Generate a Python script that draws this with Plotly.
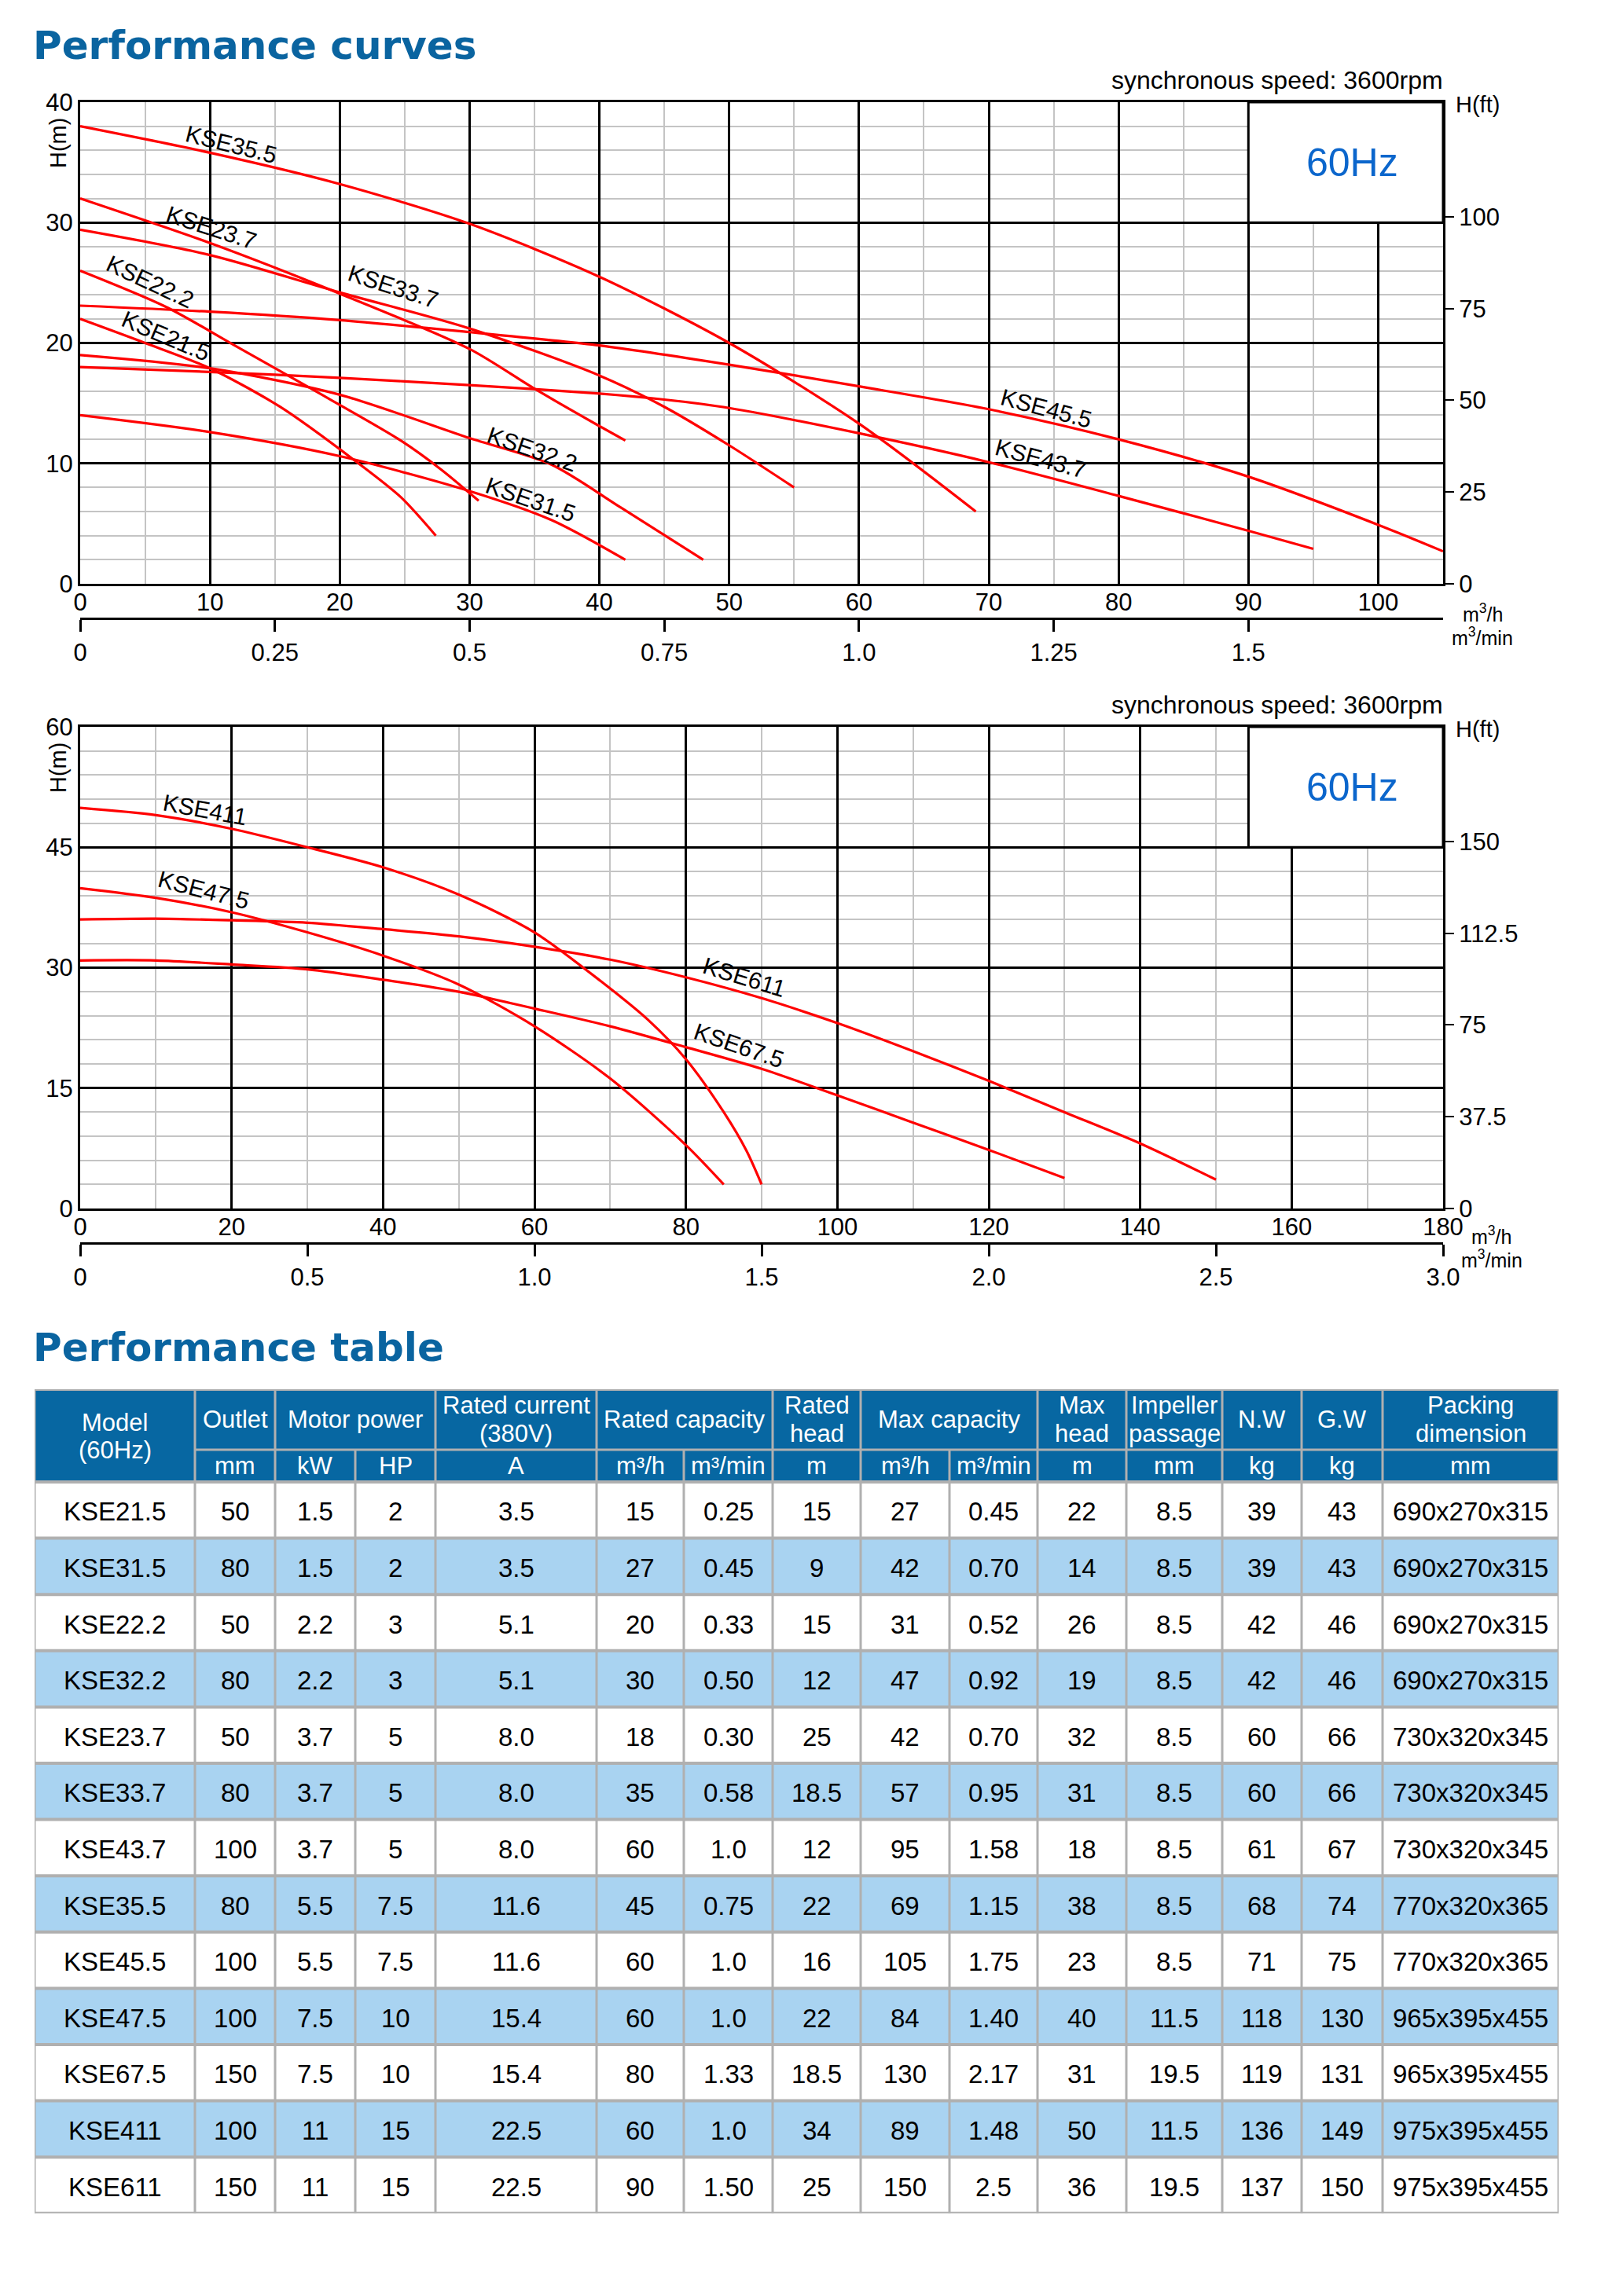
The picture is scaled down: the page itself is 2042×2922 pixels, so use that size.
import plotly.graph_objects as go

# ---------------------------------------------------------
# 1. Curve data (Q in m3/h, H in m)
# ---------------------------------------------------------
top_models = ["KSE35.5", "KSE23.7", "KSE33.7", "KSE22.2", "KSE21.5",
              "KSE45.5", "KSE43.7", "KSE32.2", "KSE31.5"]
top_q = [
    [0, 10, 20, 30, 40, 50, 60, 69],
    [0, 10, 20, 30, 35, 40, 42],
    [0, 10, 20, 30, 40, 45, 50, 55],
    [0, 6.6, 11.9, 17.8, 24.7, 27.8, 30.7],
    [0, 5, 10, 15.4, 21.2, 24.7, 27.4],
    [0, 10, 20, 30, 40, 50, 60, 70, 80, 90, 100, 105],
    [0, 10, 20, 30, 40, 45, 50, 60, 70, 80, 90, 95],
    [0, 10, 20, 30, 36.3, 41.7, 48],
    [0, 10, 20, 30, 36.3, 42],
]
top_h = [
    [38, 35.8, 33.2, 29.9, 25.5, 20.0, 13.3, 6.0],
    [32, 28.3, 24.1, 19.5, 16.2, 13.1, 11.9],
    [29.4, 27.3, 24.2, 21.2, 17.3, 14.7, 11.5, 8.0],
    [26, 23.0, 19.8, 16.2, 11.9, 9.5, 6.9],
    [22, 20.0, 17.9, 14.7, 10.2, 7.2, 4.0],
    [23.1, 22.6, 21.9, 20.9, 19.8, 18.2, 16.4, 14.5, 12.0, 8.9, 4.9, 2.7],
    [18, 17.6, 17.1, 16.5, 15.8, 15.3, 14.6, 12.5, 10.1, 7.3, 4.4, 2.9],
    [19, 17.9, 15.7, 12.1, 9.9, 6.3, 2.0],
    [14, 12.6, 10.6, 7.7, 5.3, 2.0],
]

bottom_models = ["KSE411", "KSE47.5", "KSE611", "KSE67.5"]
bottom_q = [
    [0, 10, 20, 30, 40, 50, 60, 70, 75, 80, 85, 88, 90],
    [0, 10, 20, 30, 40, 50, 60, 70, 80, 85],
    [0, 10, 20, 30, 40, 50, 60, 70, 80, 90, 100, 110, 120, 130, 140, 150],
    [0, 10, 20, 30, 40, 50, 60, 70, 80, 90, 100, 110, 120, 130],
]
bottom_h = [
    [49.9, 49.0, 47.3, 45.0, 42.5, 39.1, 34.4, 27.4, 23.5, 18.6, 12.0, 7.2, 3.0],
    [39.9, 38.7, 36.9, 34.4, 31.5, 27.9, 22.7, 16.2, 7.9, 3.0],
    [36.0, 36.1, 35.9, 35.6, 34.8, 33.9, 32.6, 31.0, 28.8, 26.2, 23.1, 19.6, 15.9, 12.0, 8.1, 3.6],
    [30.9, 30.9, 30.4, 29.8, 28.5, 27.0, 24.9, 22.7, 20.1, 17.4, 14.1, 10.7, 7.3, 3.8],
]

# ---------------------------------------------------------
# 2. Performance table data
# ---------------------------------------------------------
models = ["KSE21.5", "KSE31.5", "KSE22.2", "KSE32.2", "KSE23.7", "KSE33.7", "KSE43.7",
          "KSE35.5", "KSE45.5", "KSE47.5", "KSE67.5", "KSE411", "KSE611"]
outlet_mm = ["50", "80", "50", "80", "50", "80", "100", "80", "100", "100", "150", "100", "150"]
motor_kw = ["1.5", "1.5", "2.2", "2.2", "3.7", "3.7", "3.7", "5.5", "5.5", "7.5", "7.5", "11", "11"]
motor_hp = ["2", "2", "3", "3", "5", "5", "5", "7.5", "7.5", "10", "10", "15", "15"]
current_a = ["3.5", "3.5", "5.1", "5.1", "8.0", "8.0", "8.0", "11.6", "11.6", "15.4", "15.4", "22.5", "22.5"]
rated_q_h = ["15", "27", "20", "30", "18", "35", "60", "45", "60", "60", "80", "60", "90"]
rated_q_min = ["0.25", "0.45", "0.33", "0.50", "0.30", "0.58", "1.0", "0.75", "1.0", "1.0", "1.33", "1.0", "1.50"]
rated_head = ["15", "9", "15", "12", "25", "18.5", "12", "22", "16", "22", "18.5", "34", "25"]
max_q_h = ["27", "42", "31", "47", "42", "57", "95", "69", "105", "84", "130", "89", "150"]
max_q_min = ["0.45", "0.70", "0.52", "0.92", "0.70", "0.95", "1.58", "1.15", "1.75", "1.40", "2.17", "1.48", "2.5"]
max_head = ["22", "14", "26", "19", "32", "31", "18", "38", "23", "40", "31", "50", "36"]
impeller_mm = ["8.5", "8.5", "8.5", "8.5", "8.5", "8.5", "8.5", "8.5", "8.5", "11.5", "19.5", "11.5", "19.5"]
nw_kg = ["39", "39", "42", "42", "60", "60", "61", "68", "71", "118", "119", "136", "137"]
gw_kg = ["43", "43", "46", "46", "66", "66", "67", "74", "75", "130", "131", "149", "150"]
packing_mm = ["690x270x315", "690x270x315", "690x270x315", "690x270x315",
              "730x320x345", "730x320x345", "730x320x345",
              "770x320x365", "770x320x365", "965x395x455", "965x395x455",
              "975x395x455", "975x395x455"]

table_columns = [models, outlet_mm, motor_kw, motor_hp, current_a, rated_q_h, rated_q_min,
                 rated_head, max_q_h, max_q_min, max_head, impeller_mm, nw_kg, gw_kg, packing_mm]

# header: (first col, last col, lines) for the top header row
header_groups = [
    (1, 1, ["Outlet"]), (2, 3, ["Motor power"]), (4, 4, ["Rated current", "(380V)"]),
    (5, 6, ["Rated capacity"]), (7, 7, ["Rated", "head"]), (8, 9, ["Max capacity"]),
    (10, 10, ["Max", "head"]), (11, 11, ["Impeller", "passage"]), (12, 12, ["N.W"]),
    (13, 13, ["G.W"]), (14, 14, ["Packing", "dimension"]),
]
unit_labels = ["", "mm", "kW", "HP", "A", "m³/h", "m³/min", "m", "m³/h", "m³/min",
               "m", "mm", "kg", "kg", "mm"]

# ---------------------------------------------------------
# 3. Page geometry (figure placed inside the 8px body margin)
# ---------------------------------------------------------
FIG_W, FIG_H, PAD = 2026, 2906, 8


def px(x):
    return (x - PAD) / FIG_W


def py(y):
    return 1 - (y - PAD) / FIG_H


BLUE = "#0a64a0"
HEAD_BLUE = "#0767a2"
ROW_BLUE = "#a9d3f1"
GRID_GRAY = "#c4c4c4"
CELL_LINE = "#b0b0b0"
FONT = "Liberation Sans, Arial, sans-serif"
TITLE_FONT = "DejaVu Sans, Arial, sans-serif"

fig = go.Figure()

curve_line = dict(color="#ff0000", width=3.2, shape="spline", smoothing=0.8)
for name, q, h in zip(top_models, top_q, top_h):
    fig.add_trace(go.Scatter(x=q, y=h, mode="lines", name=name, xaxis="x", yaxis="y",
                             line=curve_line, showlegend=False))
    # same curve in m3/min and ft, invisible: carries the secondary axes
    fig.add_trace(go.Scatter(x=[v / 60 for v in q], y=[v / 0.3048 for v in h], mode="lines",
                             name=name, xaxis="x2", yaxis="y2", opacity=0,
                             line=dict(width=0), showlegend=False, hoverinfo="skip"))

for name, q, h in zip(bottom_models, bottom_q, bottom_h):
    fig.add_trace(go.Scatter(x=q, y=h, mode="lines", name=name, xaxis="x3", yaxis="y3",
                             line=curve_line, showlegend=False))
    fig.add_trace(go.Scatter(x=[v / 60 for v in q], y=[v / 0.3048 for v in h], mode="lines",
                             name=name, xaxis="x4", yaxis="y4", opacity=0,
                             line=dict(width=0), showlegend=False, hoverinfo="skip"))

tick_font = dict(family=FONT, size=31, color="black")


def grid_axis(domain, rng, dtick, minor_dtick, anchor, **extra):
    ax = dict(
        domain=domain, range=rng, anchor=anchor, dtick=dtick, tick0=0,
        showgrid=True, gridcolor="black", gridwidth=3,
        minor=dict(dtick=minor_dtick, tick0=0, showgrid=True, gridcolor=GRID_GRAY, gridwidth=2),
        showline=True, linecolor="black", linewidth=3, mirror=True,
        ticks="", zeroline=False, tickfont=tick_font, automargin=False, fixedrange=True,
    )
    ax.update(extra)
    return ax


def flow_min_axis(over, pos, rng, vals, texts):
    return dict(overlaying=over, anchor="free", position=pos, side="bottom",
                range=rng, tickvals=vals, ticktext=texts,
                ticks="outside", ticklen=15, tickwidth=3, tickcolor="black",
                showline=True, linecolor="black", linewidth=3, showgrid=False,
                zeroline=False, tickfont=tick_font, automargin=False, fixedrange=True)


def feet_axis(over, anchor, rng, vals, texts):
    return dict(overlaying=over, anchor=anchor, side="right", range=rng,
                tickvals=vals, ticktext=texts, ticks="outside", ticklen=13, tickwidth=2,
                tickcolor="black", showgrid=False, showline=False, zeroline=False,
                tickfont=tick_font, automargin=False, fixedrange=True)


top_xdom = [px(102), px(1836)]
top_ydom = [py(743), py(130)]
bot_ydom = [py(1538), py(925)]

fig.update_layout(
    width=FIG_W, height=FIG_H,
    margin=dict(l=0, r=0, t=0, b=0),
    paper_bgcolor="white", plot_bgcolor="white",
    showlegend=False,
    xaxis=grid_axis(top_xdom, [0, 105], 10, 5, "y", ticklabelstandoff=-6),
    yaxis=grid_axis(top_ydom, [0, 40], 10, 2, "x"),
    xaxis2=flow_min_axis("x", py(787), [0, 105 / 60], [0, 0.25, 0.5, 0.75, 1.0, 1.25, 1.5],
                         ["0", "0.25", "0.5", "0.75", "1.0", "1.25", "1.5"]),
    yaxis2=feet_axis("y", "x", [0, 40 / 0.3048], [0, 25, 50, 75, 100],
                     ["0", "25", "50", "75", "100"]),
    xaxis3=grid_axis(top_xdom, [0, 180], 20, 10, "y3", ticklabelstandoff=-6),
    yaxis3=grid_axis(bot_ydom, [0, 60], 15, 3, "x3"),
    xaxis4=flow_min_axis("x3", py(1582), [0, 3.0], [0, 0.5, 1.0, 1.5, 2.0, 2.5, 3.0],
                         ["0", "0.5", "1.0", "1.5", "2.0", "2.5", "3.0"]),
    yaxis4=feet_axis("y3", "x3", [0, 60 / 0.3048], [0, 37.5, 75, 112.5, 150],
                     ["0", "37.5", "75", "112.5", "150"]),
)

# ---------------------------------------------------------
# 4. Chart decorations: 60Hz boxes, labels
# ---------------------------------------------------------
# (x axis, y axis, box x0, x1, y0, y1, text x)
boxes = [("x", "y", 90, 105, 30, 40, 98.0), ("x3", "y3", 154.3, 180, 45, 60, 168.0)]
for xr, yr, x0, x1, y0, y1, tx in boxes:
    fig.add_shape(type="rect", xref=xr, yref=yr, x0=x0, x1=x1, y0=y0, y1=y1,
                  fillcolor="white", line=dict(color="black", width=3), layer="above")
    fig.add_annotation(xref=xr, yref=yr, x=tx, y=(y0 + y1) / 2, text="60Hz",
                       showarrow=False, font=dict(family=FONT, size=50, color="#0b66cc"))

curve_labels_top = {
    "KSE35.5": (11.6, 36.5, 14), "KSE23.7": (10.1, 29.6, 18), "KSE22.2": (5.4, 25.1, 25),
    "KSE21.5": (6.6, 20.6, 23), "KSE33.7": (24.1, 24.7, 18), "KSE32.2": (34.8, 11.2, 19),
    "KSE31.5": (34.7, 7.0, 19), "KSE45.5": (74.4, 14.6, 15), "KSE43.7": (74.0, 10.4, 15),
}
curve_labels_bottom = {
    "KSE411": (16.5, 49.7, 10.5), "KSE47.5": (16.3, 39.7, 14.5),
    "KSE611": (87.7, 28.8, 17), "KSE67.5": (87.0, 20.3, 19),
}
for labels, xr, yr in [(curve_labels_top, "x", "y"), (curve_labels_bottom, "x3", "y3")]:
    for name, (lx, ly, ang) in labels.items():
        fig.add_annotation(xref=xr, yref=yr, x=lx, y=ly, text=name, textangle=ang,
                           showarrow=False, font=dict(family=FONT, size=30, color="black"))


def page_text(x, y, text, size, xanchor="center", angle=0, color="black", family=FONT):
    fig.add_annotation(xref="paper", yref="paper", x=px(x), y=py(y), text=text,
                       xanchor=xanchor, yanchor="middle", textangle=angle, showarrow=False,
                       font=dict(family=family, size=size, color=color))


# page titles
page_text(40, 58, "<b>Performance curves</b>", 50, "left", color=BLUE, family=TITLE_FONT)
page_text(40, 1715, "<b>Performance table</b>", 50, "left", color=BLUE, family=TITLE_FONT)

# per-chart texts (top chart offset 0, bottom chart offset 795 px)
for dy in [0, 795]:
    page_text(1838, 102 + dy, "synchronous speed: 3600rpm", 32, "right")
    page_text(1880, 133 + dy, "H(ft)", 29)
    page_text(74, 182 + dy, "H(m)", 29, angle=-90)

page_text(1859, 780, "m<sup>3</sup>/h", 25, "left")
page_text(1845, 810, "m<sup>3</sup>/min", 25, "left")
page_text(1870, 1572, "m<sup>3</sup>/h", 25, "left")
page_text(1857, 1602, "m<sup>3</sup>/min", 25, "left")

# ---------------------------------------------------------
# 5. Performance table (own hidden axes, units = reference pixels)
# ---------------------------------------------------------
col_widths = [204, 102, 102, 102, 205, 111, 113, 112, 113, 112, 113, 122, 101, 103, 224]
head_h = [77, 41]
row_h = 71.6
n_rows = len(models)

col_edges = [0]
for w in col_widths:
    col_edges.append(col_edges[-1] + w)
table_w = col_edges[-1]
head_total = sum(head_h)
table_h = head_total + n_rows * row_h

fig.update_layout(
    xaxis5=dict(domain=[px(44), px(44 + table_w)], range=[0, table_w], anchor="y5",
                visible=False, fixedrange=True),
    yaxis5=dict(domain=[py(1768 + table_h), py(1768)], range=[table_h, 0], anchor="x5",
                visible=False, fixedrange=True),
)


def cell_rect(x0, x1, y0, y1, fill):
    fig.add_shape(type="rect", xref="x5", yref="y5", x0=x0, x1=x1, y0=y0, y1=y1,
                  fillcolor=fill, line=dict(width=0), layer="above")


def cell_line(x0, x1, y0, y1, width=3):
    fig.add_shape(type="line", xref="x5", yref="y5", x0=x0, x1=x1, y0=y0, y1=y1,
                  line=dict(color=CELL_LINE, width=width), layer="above")


def cell_text(x, y, text, color, size):
    fig.add_annotation(xref="x5", yref="y5", x=x, y=y, text=text, showarrow=False,
                       font=dict(family=FONT, size=size, color=color))


cell_rect(0, table_w, 0, head_total, HEAD_BLUE)
for i in range(n_rows):
    y0 = head_total + i * row_h
    cell_rect(0, table_w, y0, y0 + row_h, "white" if i % 2 == 0 else ROW_BLUE)

# horizontal lines
cell_line(0, table_w, 0, 0, 4)
cell_line(col_edges[1], table_w, head_h[0], head_h[0])
for i in range(n_rows + 1):
    cell_line(0, table_w, head_total + i * row_h, head_total + i * row_h, 4)

# vertical lines (merged header groups start their inner lines at the unit row)
group_inner = {col_edges[3], col_edges[6], col_edges[9]}
for xe in col_edges:
    cell_line(xe, xe, head_h[0] if xe in group_inner else 0, table_h)


def mid(a, b):
    return (col_edges[a] + col_edges[b + 1]) / 2


# header texts
cell_text(mid(0, 0), head_total / 2 - 17, "Model", "white", 31)
cell_text(mid(0, 0), head_total / 2 + 18, "(60Hz)", "white", 31)
for c0, c1, lines in header_groups:
    cy = head_h[0] / 2
    if len(lines) == 1:
        cell_text(mid(c0, c1), cy, lines[0], "white", 31)
    else:
        cell_text(mid(c0, c1), cy - 18, lines[0], "white", 31)
        cell_text(mid(c0, c1), cy + 18, lines[1], "white", 31)
for c, unit in enumerate(unit_labels):
    if unit:
        cell_text(mid(c, c), head_h[0] + head_h[1] / 2, unit, "white", 31)

# body texts
for c, values in enumerate(table_columns):
    for i, v in enumerate(values):
        cell_text(mid(c, c), head_total + (i + 0.5) * row_h + 2, v, "black", 33)

fig.write_html("out.html")
